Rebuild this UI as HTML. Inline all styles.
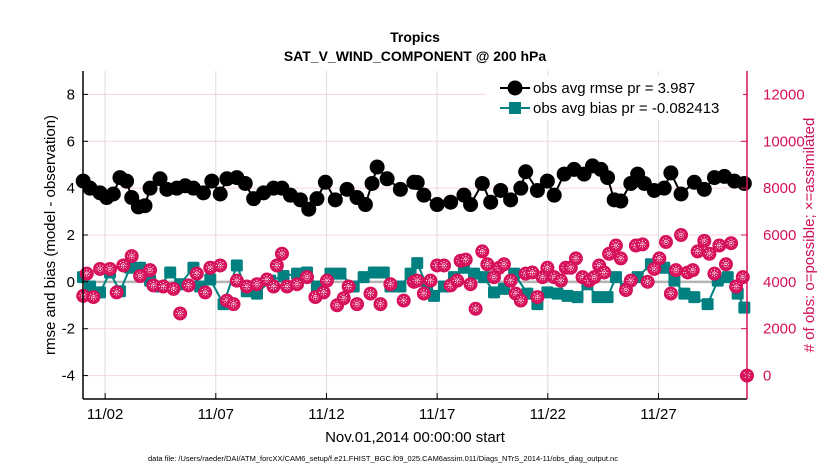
<!DOCTYPE html>
<html><head><meta charset="utf-8"><style>
body{margin:0;background:#fff;}
svg{display:block;font-family:"Liberation Sans",sans-serif;}
</style></head><body>
<svg id="chart" width="830" height="470" viewBox="0 0 830 470">
<text x="415" y="42" text-anchor="middle" font-size="14" font-weight="bold">Tropics</text>
<text x="415" y="61" text-anchor="middle" font-size="14" font-weight="bold">SAT_V_WIND_COMPONENT @ 200 hPa</text>
<g id="grid"></g>
<g id="series"></g>
<g id="axes"></g>
<g id="legend"></g>
<text transform="translate(55,235) rotate(-90)" text-anchor="middle" font-size="15">rmse and bias (model - observation)</text>
<text transform="translate(814,235) rotate(-90)" text-anchor="middle" font-size="15" fill="#d0105a"># of obs: o=possible; ×=assimilated</text>
<text x="415" y="442" text-anchor="middle" font-size="15">Nov.01,2014 00:00:00 start</text>
<text x="148" y="461" font-size="7.5">data file: /Users/raeder/DAI/ATM_forcXX/CAM6_setup/f.e21.FHIST_BGC.f09_025.CAM6assim.011/Diags_NTrS_2014-11/obs_diag_output.nc</text>
</svg>
<script>
const xTickDays=[1,6,11,16,21,26];
const xTickLabels=["11/02","11/07","11/12","11/17","11/22","11/27"];
const yTicksLeft=[-4,-2,0,2,4,6,8];
const yTicksRight=[0,2000,4000,6000,8000,10000,12000];
const rmseDays=[0.01,0.32,0.77,1.07,1.37,1.67,1.97,2.2,2.5,2.8,3.03,3.48,3.79,4.24,4.62,4.99,5.44,5.82,6.2,6.5,6.95,7.33,7.71,8.16,8.61,8.99,9.37,9.82,10.2,10.57,10.95,11.4,11.93,12.38,12.76,13.06,13.29,13.74,14.34,14.95,15.1,15.4,16.0,16.61,17.21,17.51,18.04,18.42,18.87,19.32,19.78,20.0,20.53,20.98,21.29,21.74,22.19,22.64,23.02,23.4,23.7,24.0,24.3,24.75,25.06,25.36,25.81,26.26,26.56,27.02,27.62,28.07,28.53,28.98,29.43,29.88];
const rmseVals=[4.3,4.0,3.8,3.6,3.75,4.45,4.3,3.6,3.2,3.25,4.0,4.4,3.95,4.0,4.1,4.0,3.8,4.3,3.75,4.4,4.45,4.2,3.55,3.8,4.0,4.0,3.7,3.5,3.1,3.55,4.25,3.5,3.95,3.6,3.3,4.2,4.9,4.4,3.95,4.25,4.24,3.7,3.3,3.4,3.7,3.3,4.2,3.4,3.9,3.5,4.0,4.7,3.9,4.3,3.7,4.6,4.8,4.6,4.95,4.8,4.45,3.5,3.45,4.2,4.6,4.2,3.9,4.0,4.65,3.75,4.25,3.95,4.45,4.5,4.3,4.2];
const biasDays=[0.0,0.32,0.77,1.22,1.67,2.13,2.58,3.03,3.48,3.94,4.39,4.99,5.29,5.75,6.35,6.95,7.4,7.86,8.46,9.06,9.67,10.12,10.57,11.18,11.63,12.23,12.68,13.14,13.59,13.89,14.34,14.8,15.1,15.55,15.86,16.31,16.76,17.21,17.67,18.12,18.57,19.02,19.48,20.08,20.53,20.98,21.44,21.89,22.34,22.79,23.25,23.7,24.08,24.53,25.06,25.66,26.26,26.72,27.17,27.62,28.22,28.68,29.13,29.58,29.88];
const biasVals=[0.2,-0.2,-0.45,0.4,-0.4,0.6,0.6,0.05,-0.2,0.4,-0.1,0.6,-0.2,0.1,-0.95,0.7,-0.4,-0.5,0.05,0.25,0.35,0.4,-0.2,0.35,0.35,-0.2,0.2,0.4,0.4,-0.2,-0.2,0.35,0.8,-0.2,-0.6,-0.2,0.2,0.6,0.35,0.2,-0.45,-0.3,0.35,-0.5,-0.95,-0.45,-0.5,-0.6,-0.65,-0.1,-0.65,-0.65,0.2,-0.3,0.2,0.75,0.6,0.05,-0.5,-0.65,-0.95,0.05,0.2,-0.5,-1.1];
const obsDays=[0.01,0.17,0.47,0.77,1.22,1.52,1.82,2.2,2.58,3.03,3.18,3.63,4.09,4.39,4.77,5.14,5.52,5.75,6.2,6.5,6.8,6.95,7.4,7.86,8.31,8.61,8.76,8.99,9.22,9.67,10.12,10.5,10.87,11.02,11.48,11.78,12.0,12.38,12.99,13.44,13.89,14.49,14.95,15.1,15.4,15.7,16.0,16.31,16.61,16.91,17.06,17.29,17.51,17.74,18.04,18.27,18.57,18.8,19.02,19.32,19.55,19.78,20.0,20.3,20.53,20.76,20.98,21.29,21.59,21.81,22.04,22.27,22.57,22.87,23.1,23.32,23.55,23.77,24.08,24.3,24.53,24.75,24.98,25.28,25.51,25.81,26.04,26.34,26.56,26.79,27.02,27.32,27.55,27.77,28.07,28.3,28.53,28.75,29.05,29.28,29.51,29.81,30.0];
const obsVals=[3400,4350,3350,4550,4550,3550,4700,5100,4250,4500,3850,3800,3700,2650,3850,4350,3550,4600,4700,3200,3050,4050,3800,3900,4100,3800,4700,5200,3800,3900,4200,3350,3550,4050,3000,3300,3800,3050,3500,3050,3900,3200,4000,4050,3500,4050,4700,4700,3850,4050,4900,4950,3900,2850,5300,4750,4200,4600,4750,4050,3500,3200,4350,4400,3350,4200,4600,4200,4050,4600,4600,5000,4200,4050,4200,4700,4400,5200,5550,5000,3650,4050,5550,5600,4000,4550,5000,5700,3500,4500,6000,4400,4500,5300,5750,5200,4350,5550,4750,5650,3800,4200,0];

const NS="http://www.w3.org/2000/svg";
const L=83,R=747,T=71,B=399;
const xS=d=>L+d*(R-L)/30;
const yS=v=>B-(v+5)*(B-T)/14;
const yR=o=>yS(o/1000-4);
function mk(tag,attrs,parent){const e=document.createElementNS(NS,tag);for(const k in attrs)e.setAttribute(k,attrs[k]);parent.appendChild(e);return e;}
const grid=document.getElementById('grid'),ser=document.getElementById('series'),ax=document.getElementById('axes'),lg=document.getElementById('legend');

yTicksLeft.forEach(v=>{const l=mk('line',{x1:L,x2:R,y1:yS(v),y2:yS(v),stroke:'#f6d3df','stroke-width':1},grid);

});
xTickDays.forEach(d=>{const l=mk('line',{x1:xS(d),x2:xS(d),y1:T,y2:B,stroke:'#dcdcdc','stroke-width':1},grid);

});
const zl=mk('line',{x1:L,x2:R,y1:yS(0),y2:yS(0),stroke:'#b4b4b4','stroke-width':2.5},grid);



// rmse
const rp=mk('polyline',{points:rmseDays.map((d,i)=>xS(d)+','+yS(rmseVals[i])).join(' '),fill:'none',stroke:'#000','stroke-width':2},ser);


rmseDays.forEach((d,i)=>{const c=mk('circle',{cx:xS(d),cy:yS(rmseVals[i]),r:7.5,fill:'#000'},ser);

});
// bias
const bp=mk('polyline',{points:biasDays.map((d,i)=>xS(d)+','+yS(biasVals[i])).join(' '),fill:'none',stroke:'#008080','stroke-width':2},ser);


biasDays.forEach((d,i)=>{const s=mk('rect',{x:xS(d)-6,y:yS(biasVals[i])-6,width:12,height:12,rx:1.5,fill:'#008080'},ser);

});
// obs
obsDays.forEach((d,i)=>{const g=mk('g',{},ser);


const cx=xS(d),cy=yR(obsVals[i]);
mk('circle',{cx:cx,cy:cy,r:7,fill:'#d6105a'},g);
for(let a=0;a<4;a++){const an=a*Math.PI/4;mk('line',{x1:cx-4.5*Math.cos(an),y1:cy-4.5*Math.sin(an),x2:cx+4.5*Math.cos(an),y2:cy+4.5*Math.sin(an),stroke:'#fff','stroke-width':1,'stroke-dasharray':'1 1.2'},g);}
});

// axes
const la=mk('line',{x1:L,x2:L,y1:T,y2:B,stroke:'#000','stroke-width':1.5},ax);


const ba=mk('line',{x1:L,x2:R,y1:B,y2:B,stroke:'#000','stroke-width':1.5},ax);


const ra=mk('line',{x1:R,x2:R,y1:T,y2:B,stroke:'#d6105a','stroke-width':1.5},ax);


yTicksLeft.forEach(v=>{mk('line',{x1:L,x2:L+5,y1:yS(v),y2:yS(v),stroke:'#000'},ax);
const t=mk('text',{x:L-8,y:yS(v)+5,'text-anchor':'end','font-size':15},ax);t.textContent=v;

});
yTicksRight.forEach(o=>{mk('line',{x1:R-6,x2:R,y1:yR(o),y2:yR(o),stroke:'#d6105a'},ax);
const t=mk('text',{x:R+16,y:yR(o)+5,'font-size':15,fill:'#d6105a'},ax);t.textContent=o;

});
xTickDays.forEach((d,i)=>{mk('line',{x1:xS(d),x2:xS(d),y1:B-6,y2:B,stroke:'#000'},ax);
const t=mk('text',{x:xS(d),y:419,'text-anchor':'middle','font-size':15},ax);t.textContent=xTickLabels[i];

});

// legend
mk('rect',{x:485,y:76,width:258,height:44,fill:'#fff'},lg);
[[88,'#000','obs avg rmse pr = 3.987','c'],[108,'#008080','obs avg bias pr = -0.082413','s']].forEach(e=>{
const g=mk('g',{},lg);


mk('line',{x1:500,x2:530,y1:e[0],y2:e[0],stroke:e[1],'stroke-width':2},g);
if(e[3]=='c')mk('circle',{cx:515,cy:e[0],r:7.5,fill:e[1]},g);else mk('rect',{x:509,y:e[0]-6,width:12,height:12,fill:e[1]},g);
const t=mk('text',{x:533,y:e[0]+5,'font-size':15},g);t.textContent=e[2];});
</script>
</body></html>
